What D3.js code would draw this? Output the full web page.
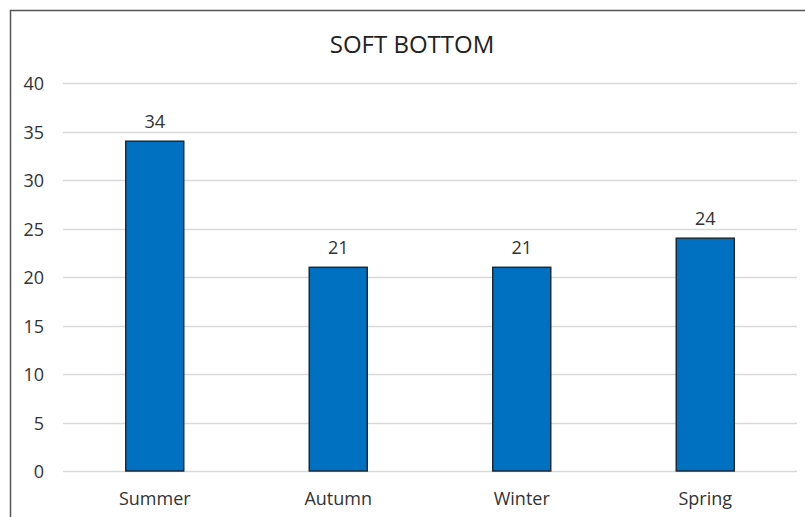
<!DOCTYPE html>
<html>
<head>
<meta charset="utf-8">
<script src="https://cdn.jsdelivr.net/npm/d3@7"></script>
<style>
  body { margin: 0; background: #fff; }
  text { font-family: "Open Sans", sans-serif; }
</style>
</head>
<body>
<script>
const seasons = ['Summer', 'Autumn', 'Winter', 'Spring'];
const counts = [34, 21, 21, 24];
const yTicks = [0, 5, 10, 15, 20, 25, 30, 35, 40];
const chartTitle = 'SOFT BOTTOM';

const width = 805;
const height = 517;
const margin = { top: 83, right: 8, bottom: 46, left: 63 };

const svg = d3.select('body').append('svg')
  .attr('width', width)
  .attr('height', height);

// outer frame (right and bottom edges run off the picture)
svg.append('rect')
  .attr('x', 10.5)
  .attr('y', 10.5)
  .attr('width', 820)
  .attr('height', 540)
  .attr('fill', 'none')
  .attr('stroke', '#555')
  .attr('stroke-width', 1.5);

const x = d3.scaleBand()
  .domain(seasons)
  .range([margin.left, width - margin.right])
  .paddingInner(0.684)
  .paddingOuter(0.342);

const y = d3.scaleLinear()
  .domain([0, 40])
  .range([height - margin.bottom, margin.top]);

// gridlines
svg.append('g')
  .selectAll('line')
  .data(yTicks)
  .enter().append('line')
  .attr('x1', margin.left)
  .attr('x2', width - margin.right)
  .attr('y1', d => Math.round(y(d)) + 0.5)
  .attr('y2', d => Math.round(y(d)) + 0.5)
  .attr('stroke', '#d9d9d9')
  .attr('stroke-width', 1.5);

// y axis labels
const yAxis = svg.append('g')
  .attr('transform', `translate(${margin.left - 19},1)`)
  .call(d3.axisLeft(y).tickValues(yTicks).tickSize(0).tickPadding(0));
yAxis.select('.domain').remove();
yAxis.selectAll('text')
  .attr('fill', '#333')
  .style('font-size', '18px');

// x axis labels
const xAxis = svg.append('g')
  .attr('transform', `translate(0,${height - margin.bottom})`)
  .call(d3.axisBottom(x).tickSize(0).tickPadding(21));
xAxis.select('.domain').remove();
xAxis.selectAll('text')
  .attr('fill', '#333')
  .style('font-size', '18px');

const data = seasons.map((s, i) => ({ season: s, value: counts[i] }));

// bars
svg.append('g')
  .selectAll('rect')
  .data(data)
  .enter().append('rect')
  .attr('x', d => x(d.season))
  .attr('y', d => y(d.value))
  .attr('width', x.bandwidth())
  .attr('height', d => y(0) - y(d.value))
  .attr('fill', '#0070c0')
  .attr('stroke', '#1c2a38')
  .attr('stroke-width', 1.5);

// value labels
svg.append('g')
  .selectAll('text')
  .data(data)
  .enter().append('text')
  .attr('x', d => x(d.season) + x.bandwidth() / 2)
  .attr('y', d => y(d.value) - 13)
  .attr('text-anchor', 'middle')
  .attr('fill', '#333')
  .style('font-size', '18px')
  .text(d => d.value);

// title
svg.append('text')
  .attr('x', 412)
  .attr('y', 53)
  .attr('text-anchor', 'middle')
  .attr('fill', '#222')
  .style('font-size', '24px')
  .text(chartTitle);
</script>
</body>
</html>
